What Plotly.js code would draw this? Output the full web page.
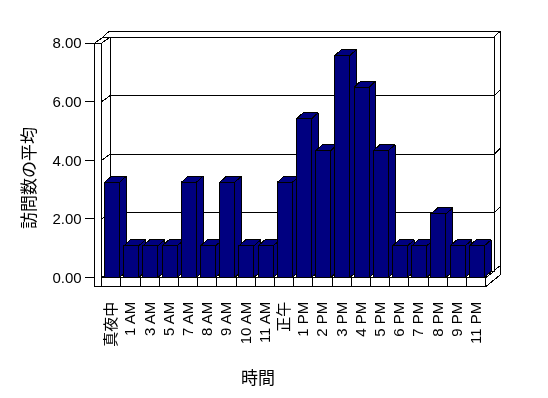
<!DOCTYPE html>
<html><head><meta charset="utf-8">
<script src="https://cdn.plot.ly/plotly-3.0.1.min.js"></script>
<style>
html,body{margin:0;padding:0;background:#fff}
#chart{width:548px;height:398px}
#chart svg path{shape-rendering:crispEdges}
#chart svg text{filter:grayscale(1)}
</style>
</head><body><div id="chart"></div>
<script>
// ---- data ----
const categories = ["真夜中","1 AM","3 AM","5 AM","7 AM","8 AM","9 AM","10 AM","11 AM","正午",
                    "1 PM","2 PM","3 PM","4 PM","5 PM","6 PM","7 PM","8 PM","9 PM","11 PM"];
const avgVisits = [3.25,1.08,1.08,1.08,3.25,1.08,3.25,1.08,1.08,3.25,
                   5.42,4.33,7.58,6.5,4.33,1.08,1.08,2.17,1.08,1.08];
const yTickValues = [0,2,4,6,8];
const yTitle = "訪問数の平均";
const xTitle = "時間";

// ---- layout geometry (pixels) ----
const W=548, H=398;
const PL=60, PR=520, PT=20, PB=300;       // plot area
const SX=19.2, SY=29.3;                   // px per category slot / per unit
const X0PX=101.7, Y0PX=277.5;             // px of x=0 / y=0 on the front plane
const N = categories.length;
const YMAX = yTickValues[yTickValues.length-1];
const DX = 8.3/SX, DY = 6/SY;             // floor depth (to back wall)
const TX = 6/SX,  TY = 5.7/SY;            // back wall thickness
const LW = 7/SX;                          // left wall thickness
const FT = 9.2/SY;                        // floor slab thickness
const BX = 6.7/SX, BY = 6/SY;             // bar depth
const B0 = 0.15, B1 = 0.93;               // bar front face within slot

const xr=[(PL-X0PX)/SX,(PR-X0PX)/SX];
const yr=[(Y0PX-PB)/SY,(Y0PX-PT)/SY];
const FONT = "'Liberation Sans', Arial, 'Noto Sans CJK JP', sans-serif";

function polys(list){
  const x=[],y=[];
  list.forEach((p,k)=>{ if(k){x.push(null);y.push(null);} p.forEach(q=>{x.push(q[0]);y.push(q[1]);}); x.push(p[0][0]); y.push(p[0][1]); });
  return {x,y};
}
function filled(list, color){
  const d=polys(list);
  return {type:'scatter',mode:'lines',x:d.x,y:d.y,fill:'toself',fillcolor:color,
          line:{color:'#000',width:1},hoverinfo:'skip',showlegend:false};
}
function lines(list){
  const x=[],y=[];
  list.forEach((p,k)=>{ if(k){x.push(null);y.push(null);} p.forEach(q=>{x.push(q[0]);y.push(q[1]);}); });
  return {type:'scatter',mode:'lines',x,y,line:{color:'#000',width:1},hoverinfo:'skip',showlegend:false};
}

const traces=[];
// back wall top & right thickness faces
traces.push(filled([
  [[DX-LW,YMAX+DY],[N+DX,YMAX+DY],[N+DX+TX,YMAX+DY+TY],[DX-LW+TX,YMAX+DY+TY]],
  [[N+DX,DY],[N+DX,YMAX+DY],[N+DX+TX,YMAX+DY+TY],[N+DX+TX,DY+TY]]
],'#fff'));
// floor right side
traces.push(filled([[[N,0],[N+DX+TX,DY+TY],[N+DX+TX,DY+TY-FT],[N,-FT]]],'#fff'));
// back wall inner face and left wall inner face
traces.push(filled([
  [[DX,DY],[N+DX,DY],[N+DX,YMAX+DY],[DX,YMAX+DY]],
  [[0,0],[DX,DY],[DX,YMAX+DY],[0,YMAX]]
],'#fff'));
// gridlines
const gl=[];
yTickValues.filter(v=>v>0 && v<YMAX).forEach(v=>{
  gl.push([[-LW,v],[0,v],[DX,v+DY],[N+DX,v+DY],[N+DX+TX,v+DY+TY]]);
});
traces.push(lines(gl));
// floor top & front
traces.push(filled([
  [[0,0],[N,0],[N+DX,DY],[DX,DY]],
  [[0,-FT],[N,-FT],[N,0],[0,0]]
],'#fff'));
const div=[];
for(let i=1;i<N;i++) div.push([[i,0],[i,-FT]]);
traces.push(lines(div));
// left wall front & top
traces.push(filled([
  [[-LW,-FT],[0,-FT],[0,YMAX],[-LW,YMAX]],
  [[-LW,YMAX],[0,YMAX],[DX,YMAX+DY],[DX-LW,YMAX+DY]]
],'#fff'));
// bars
avgVisits.forEach((v,i)=>{
  const x0=i+B0, x1=i+B1;
  traces.push(filled([
    [[x1,0],[x1+BX,BY],[x1+BX,v+BY],[x1,v]],
    [[x0,v],[x1,v],[x1+BX,v+BY],[x0+BX,v+BY]],
    [[x0,0],[x1,0],[x1,v],[x0,v]]
  ],'#000080'));
});

const layout={
  width:W,height:H,paper_bgcolor:'#fff',plot_bgcolor:'rgba(0,0,0,0)',
  margin:{l:PL,r:W-PR,t:PT,b:H-PB,pad:0},
  showlegend:false,
  font:{family:FONT,color:'#000',size:15},
  xaxis:{type:'linear',range:xr,fixedrange:true,showgrid:false,zeroline:false,showline:false,
    tickvals:categories.map((_,i)=>i+0.5),ticktext:categories,tickangle:-90,
    ticks:'outside',ticklen:8,tickcolor:'rgba(0,0,0,0)',
    tickfont:{family:FONT,size:15,color:'#000'},
    anchor:'free',position:(PB-(Y0PX+FT*SY))/(PB-PT),automargin:false},
  yaxis:{type:'linear',range:yr,fixedrange:true,showgrid:false,zeroline:false,showline:false,
    tickvals:yTickValues,tickformat:'.2f',ticks:'outside',ticklen:10,tickcolor:'#000',tickwidth:1,
    tickfont:{family:FONT,size:15,color:'#000'},
    anchor:'free',position:(X0PX-LW*SX-PL)/(PR-PL),automargin:false},
  annotations:[
    {text:yTitle,xref:'paper',yref:'paper',x:(27-PL)/(PR-PL),y:(PB-178)/(PB-PT),
     textangle:-90,showarrow:false,xanchor:'center',yanchor:'middle',
     font:{family:"'Noto Sans CJK JP', sans-serif",size:17,color:'#000'}},
    {text:xTitle,xref:'paper',yref:'paper',x:(258-PL)/(PR-PL),y:(PB-376)/(PB-PT),
     showarrow:false,xanchor:'center',yanchor:'middle',
     font:{family:"'Noto Sans CJK JP', sans-serif",size:17,color:'#000'}}
  ]
};
Plotly.newPlot('chart',traces,layout,{staticPlot:true,displayModeBar:false});
</script>
</body></html>
